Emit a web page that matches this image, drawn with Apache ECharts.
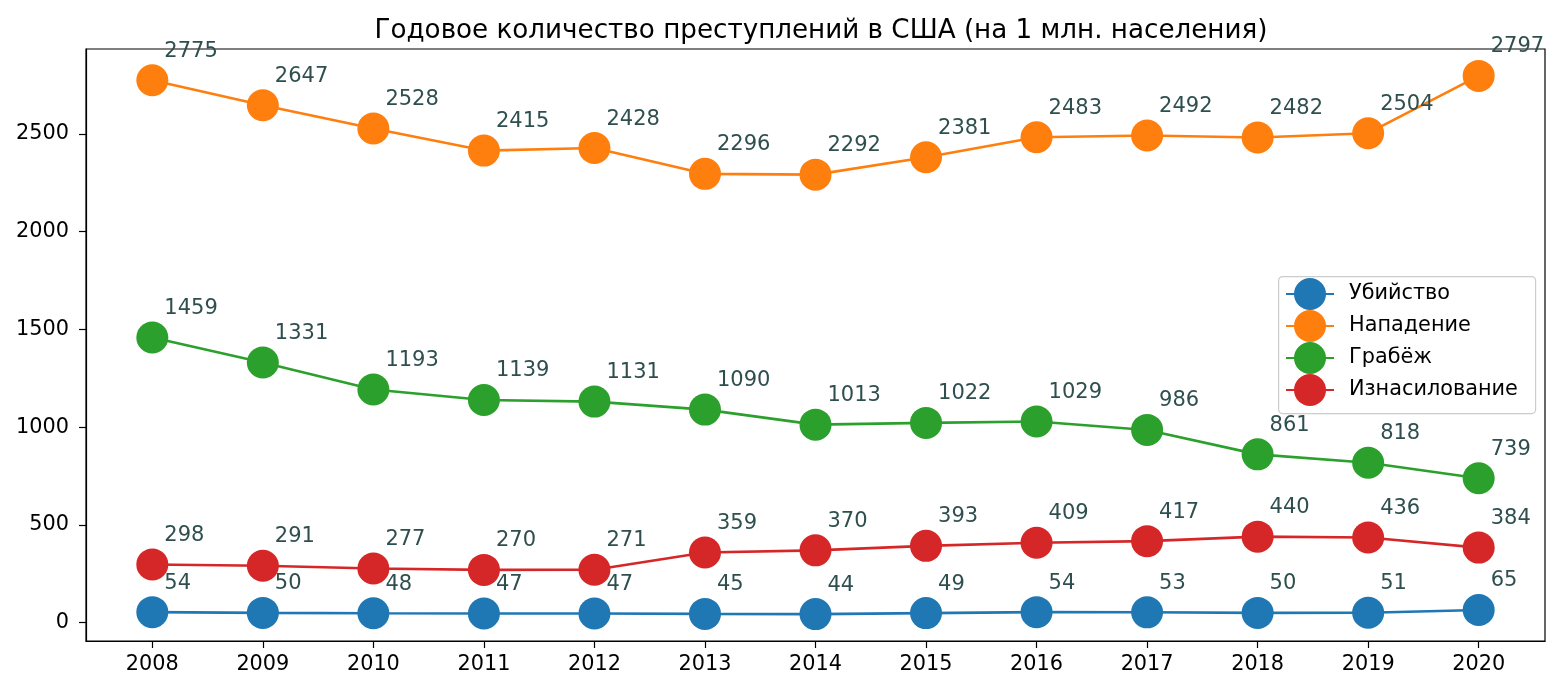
<!DOCTYPE html>
<html><head><meta charset="utf-8">
<script src="https://cdn.jsdelivr.net/npm/echarts@6/dist/echarts.min.js"></script>
<style>html,body{margin:0;padding:0;background:#fff}#c{width:1560px;height:694px}</style>
</head><body><div id="c"></div>
<script>
const years = [2008,2009,2010,2011,2012,2013,2014,2015,2016,2017,2018,2019,2020];
const murder = [54,50,48,47,47,45,44,49,54,53,50,51,65];
const assault = [2775,2647,2528,2415,2428,2296,2292,2381,2483,2492,2482,2504,2797];
const robbery = [1459,1331,1193,1139,1131,1090,1013,1022,1029,986,861,818,739];
const rape = [298,291,277,270,271,359,370,393,409,417,440,436,384];
const yTicks = [0,500,1000,1500,2000,2500];
const names = ['Убийство','Нападение','Грабёж','Изнасилование'];
const colors = ['#1f77b4','#ff7f0e','#2ca02c','#d62728'];
const font = 'DejaVu Sans';
function mk(name, vals, color){
  return {
    name: name, type: 'line', data: years.map((y,i)=>[y, vals[i]]),
    symbol: 'circle', symbolSize: 32,
    lineStyle: {color: color, width: 2.6}, itemStyle: {color: color},
    label: {show: true, position: [28, -13], align: 'left', verticalAlign: 'middle',
      color: '#2f4f4f', fontSize: 21, fontFamily: font,
      formatter: p => p.value[1]},
    emphasis: {disabled: true}, animation: false
  };
}
const chart = echarts.init(document.getElementById('c'));
chart.setOption({
  animation: false,
  title: {text: 'Годовое количество преступлений в США (на 1 млн. населения)', left: 816, top: 13, textAlign: 'center',
    textStyle: {fontFamily: font, fontSize: 26.2, fontWeight: 'normal', color: '#000'}},
  grid: {left: 86, right: 15, top: 49, bottom: 53, show: true, borderColor: '#000', borderWidth: 1.2, backgroundColor: 'transparent'},
  graphic: [{type: 'rect', left: 1278, top: 276, z: 5,
    shape: {width: 257, height: 137, r: 4},
    style: {fill: 'rgba(255,255,255,0.85)', stroke: '#cccccc', lineWidth: 1.2}}],
  legend: {data: names, left: 1285, top: 278, orient: 'vertical', itemWidth: 48, itemHeight: 40, itemGap: 0,
    padding: 0, z: 6,
    formatter: n => '{s|}' + n,
    textStyle: {fontFamily: font, fontSize: 20.8, color: '#000', rich: {s: {width: 10}}}},
  xAxis: {type: 'value', min: 2007.4, max: 2020.6,
    axisLine: {show: true, onZero: false, lineStyle: {color: '#000', width: 1.2}}, splitLine: {show: false},
    axisTick: {show: true, length: 7, lineStyle: {color: '#000', width: 1.2}, customValues: years},
    axisLabel: {customValues: years, color: '#000', fontSize: 20.8, fontFamily: font, margin: 13, formatter: v => String(v)}},
  yAxis: {type: 'value', min: -93.7, max: 2934.7,
    axisLine: {show: true, onZero: false, lineStyle: {color: '#000', width: 1.2}}, splitLine: {show: false},
    axisTick: {show: true, length: 7, lineStyle: {color: '#000', width: 1.2}, customValues: yTicks},
    axisLabel: {customValues: yTicks, color: '#000', fontSize: 20.8, fontFamily: font, margin: 17, formatter: v => String(v)}},
  series: [mk(names[0], murder, colors[0]), mk(names[1], assault, colors[1]), mk(names[2], robbery, colors[2]), mk(names[3], rape, colors[3])]
});
</script></body></html>
